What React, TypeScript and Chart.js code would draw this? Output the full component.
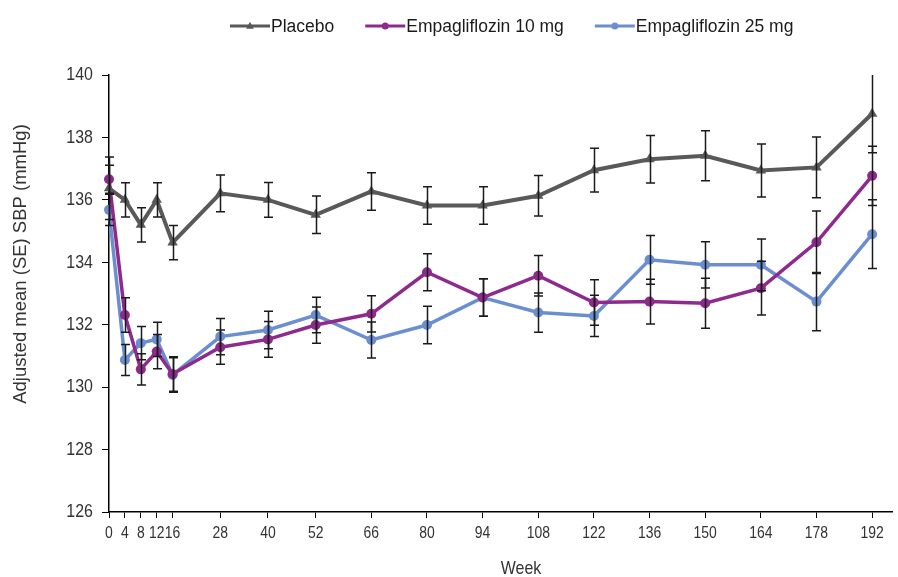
import React, { useEffect, useRef } from 'react';
import { Chart, registerables } from 'chart.js';

Chart.register(...registerables);

const weeks = [0, 4, 8, 12, 16, 28, 40, 52, 66, 80, 94, 108, 122, 136, 150, 164, 178, 192];
const weekTicks = [0, 4, 8, 12, 16, 28, 40, 52, 66, 80, 94, 108, 122, 136, 150, 164, 178, 192];

const placebo = [136.37, 136.0, 135.2, 136.0, 134.63, 136.21, 136.0, 135.52, 136.27, 135.82, 135.82, 136.13, 136.95, 137.3, 137.41, 136.94, 137.04, 138.76];
const placeboSE = [1.0, 0.55, 0.55, 0.55, 0.55, 0.59, 0.56, 0.6, 0.6, 0.6, 0.6, 0.65, 0.7, 0.76, 0.8, 0.85, 0.97, 1.25];

const empa10 = [136.66, 132.31, 130.57, 131.14, 130.42, 131.28, 131.53, 131.99, 132.35, 133.68, 132.87, 133.57, 132.71, 132.74, 132.69, 133.17, 134.64, 136.77];
const empa10SE = [0.45, 0.55, 0.5, 0.55, 0.55, 0.55, 0.57, 0.58, 0.58, 0.59, 0.6, 0.65, 0.73, 0.72, 0.8, 0.86, 1.0, 0.95];

const empa25 = [135.68, 130.87, 131.41, 131.53, 130.39, 131.62, 131.83, 132.31, 131.51, 131.99, 132.87, 132.39, 132.28, 134.08, 133.92, 133.92, 132.74, 134.9];
const empa25SE = [0.5, 0.5, 0.53, 0.55, 0.55, 0.58, 0.6, 0.57, 0.58, 0.6, 0.6, 0.63, 0.66, 0.78, 0.74, 0.83, 0.93, 1.1];

const seriesLabels = ['Placebo', 'Empagliflozin 10 mg', 'Empagliflozin 25 mg'];
const seriesColors = ['#595959', '#8e2a8c', '#6b8ed0'];
const seriesMarkers = ['triangle', 'circle', 'circle'];
const seriesValues = [placebo, empa10, empa25];
const seriesSE = [placeboSE, empa10SE, empa25SE];

const yTitle = 'Adjusted mean (SE) SBP (mmHg)';
const xTitle = 'Week';

const CONDENSE: Record<string, number> = { x: 0.82, y: 0.84 };

function drawMarker(ctx: CanvasRenderingContext2D, style: string, x: number, y: number, r: number, color: string) {
  ctx.save();
  ctx.fillStyle = color;
  ctx.beginPath();
  if (style === 'triangle') {
    ctx.moveTo(x, y - r * 1.2);
    ctx.lineTo(x + r * 1.1, y + r * 0.8);
    ctx.lineTo(x - r * 1.1, y + r * 0.8);
    ctx.closePath();
  } else {
    ctx.arc(x, y, r, 0, Math.PI * 2);
  }
  ctx.fill();
  ctx.restore();
}

// Render the axis tick labels slightly condensed (narrow face look of the original)
const condensedLabelsPlugin = {
  id: 'condensedLabels',
  afterLayout(chart: any) {
    ['x', 'y'].forEach((id) => {
      const scale = chart.scales[id];
      if (!scale || scale.__condensed) return;
      const k = CONDENSE[id];
      const orig = scale.drawLabels.bind(scale);
      scale.drawLabels = (area: any) => {
        const ctx = scale.ctx as any;
        const of = CanvasRenderingContext2D.prototype.fillText;
        ctx.fillText = function (t: string, x: number, y: number) {
          this.save();
          this.scale(k, 1);
          of.call(this, t, x / k, y);
          this.restore();
        };
        try {
          orig(area);
        } finally {
          delete ctx.fillText;
        }
      };
      scale.__condensed = true;
    });
  },
};

const errorBarPlugin = {
  id: 'errorBars',
  afterDatasetsDraw(chart: any) {
    const ctx = chart.ctx as CanvasRenderingContext2D;
    const xs = chart.scales.x;
    const ys = chart.scales.y;
    ctx.save();
    ctx.strokeStyle = '#1a1a1a';
    ctx.lineWidth = 1.5;
    seriesValues.forEach((vals, si) => {
      const se = seriesSE[si];
      vals.forEach((v, i) => {
        const px = Math.round(xs.getPixelForValue(weeks[i])) + 0.5;
        const top = ys.getPixelForValue(Math.min(v + se[i], 140));
        const bot = ys.getPixelForValue(v - se[i]);
        ctx.beginPath();
        ctx.moveTo(px, top);
        ctx.lineTo(px, bot);
        if (v + se[i] <= 140) {
          ctx.moveTo(px - 4.5, top);
          ctx.lineTo(px + 4.5, top);
        }
        ctx.moveTo(px - 4.5, bot);
        ctx.lineTo(px + 4.5, bot);
        ctx.stroke();
      });
    });
    ctx.restore();
  },
};

const legendPlugin = {
  id: 'customLegend',
  afterDraw(chart: any) {
    const ctx = chart.ctx as CanvasRenderingContext2D;
    ctx.save();
    ctx.font = '17.5px "Liberation Sans", Arial, sans-serif';
    ctx.textBaseline = 'alphabetic';
    ctx.textAlign = 'left';
    let x = 230;
    const yLine = 26;
    seriesLabels.forEach((label, i) => {
      ctx.strokeStyle = seriesColors[i];
      ctx.lineWidth = 3;
      ctx.beginPath();
      ctx.moveTo(x, yLine);
      ctx.lineTo(x + 40, yLine);
      ctx.stroke();
      drawMarker(ctx, seriesMarkers[i], x + 20, yLine, 3.5, seriesColors[i]);
      ctx.fillStyle = '#1a1a1a';
      ctx.fillText(label, x + 41, 32);
      x += 41 + ctx.measureText(label).width + 31;
    });
    ctx.restore();

    // x axis title
    ctx.save();
    ctx.font = '19px "Liberation Sans", Arial, sans-serif';
    ctx.textAlign = 'center';
    ctx.textBaseline = 'alphabetic';
    ctx.fillStyle = '#333333';
    ctx.translate(521, 574);
    ctx.scale(0.84, 1);
    ctx.fillText(xTitle, 0, 0);
    ctx.restore();

    // y axis title
    ctx.save();
    ctx.font = '18.5px "Liberation Sans", Arial, sans-serif';
    ctx.textAlign = 'center';
    ctx.textBaseline = 'middle';
    ctx.fillStyle = '#333333';
    ctx.translate(21, 264);
    ctx.rotate(-Math.PI / 2);
    ctx.fillText(yTitle, 0, 0);
    ctx.restore();
  },
};

export default function App() {
  const canvasRef = useRef<HTMLCanvasElement | null>(null);

  useEffect(() => {
    if (!canvasRef.current) return;
    const datasets = seriesValues.map((vals, si) => ({
      label: seriesLabels[si],
      data: vals.map((v, i) => ({ x: weeks[i], y: v })),
      borderColor: seriesColors[si],
      backgroundColor: seriesColors[si],
      borderWidth: si === 0 ? 4 : 3.5,
      pointStyle: seriesMarkers[si],
      pointRadius: si === 0 ? 6 : 5,
      pointBorderWidth: 0,
      pointBackgroundColor: seriesColors[si],
      tension: 0,
      clip: false as any,
    }));

    const chart = new Chart(canvasRef.current, {
      type: 'line',
      data: { datasets },
      options: {
        animation: false,
        responsive: false,
        maintainAspectRatio: false,
        layout: { padding: { top: 75, left: 0, right: 1, bottom: 0 } },
        plugins: {
          legend: { display: false },
          tooltip: { enabled: false },
        },
        scales: {
          x: {
            type: 'linear',
            min: 0,
            max: 197,
            afterBuildTicks: (scale: any) => {
              scale.ticks = weekTicks.map((v) => ({ value: v }));
            },
            afterFit: (scale: any) => {
              scale.height = 65;
            },
            grid: {
              drawOnChartArea: false,
              drawTicks: true,
              tickLength: 6,
              color: '#000000',
              lineWidth: 1,
            },
            border: { display: true, color: '#000000', width: 1.5 },
            ticks: {
              autoSkip: false,
              maxRotation: 0,
              minRotation: 0,
              padding: 5,
              color: '#333333',
              font: { family: '"Liberation Sans", Arial, sans-serif', size: 17 },
              callback: (v: any) => String(v),
            },
          },
          y: {
            type: 'linear',
            min: 126,
            max: 140,
            afterFit: (scale: any) => {
              scale.width = 109;
            },
            grid: {
              drawOnChartArea: false,
              drawTicks: true,
              tickLength: 7,
              color: '#000000',
              lineWidth: 1,
            },
            border: { display: true, color: '#000000', width: 1.5 },
            ticks: {
              stepSize: 2,
              padding: 9,
              color: '#333333',
              font: { family: '"Liberation Sans", Arial, sans-serif', size: 19 },
              callback: (v: any) => String(v),
            },
          },
        },
      },
      plugins: [condensedLabelsPlugin, errorBarPlugin, legendPlugin],
    });

    return () => {
      chart.destroy();
    };
  }, []);

  return (
    <div style={{ position: 'fixed', left: 0, top: 0, width: 898, height: 577, background: '#ffffff' }}>
      <canvas ref={canvasRef} width={898} height={577} style={{ display: 'block', width: 898, height: 577 }} />
    </div>
  );
}
